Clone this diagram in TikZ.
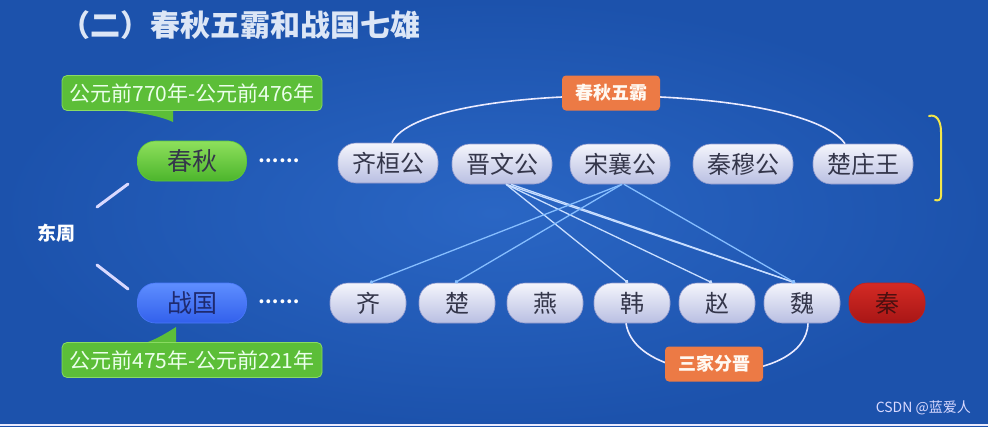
\documentclass[tikz,border=0pt]{standalone}
\usepackage{fontspec}
\setmainfont{Noto Sans CJK SC}
\usetikzlibrary{arrows.meta}
\definecolor{bgin}{HTML}{2A66C4}
\definecolor{bgout}{HTML}{1C52AC}
\definecolor{pilltop}{HTML}{F4F5FC}
\definecolor{pillbot}{HTML}{B9BFE2}
\definecolor{pillline}{HTML}{8E98CC}
\definecolor{txtdark}{HTML}{34364A}
\definecolor{calgreen}{HTML}{5CBE38}
\definecolor{calline}{HTML}{8ADB62}
\definecolor{orangebox}{HTML}{EC7A45}
\definecolor{linew}{HTML}{C8DEFF}
\definecolor{lineb}{HTML}{86BEFF}
\definecolor{ydraw}{HTML}{F2E64A}
\definecolor{titlec}{HTML}{DCE6F6}
\definecolor{gtop}{HTML}{8EE05C}
\definecolor{gbot}{HTML}{4CB52C}
\definecolor{gline}{HTML}{5FC83A}
\definecolor{btop}{HTML}{5E8EFF}
\definecolor{bbot}{HTML}{3260EC}
\definecolor{bline}{HTML}{4A78FA}
\definecolor{btext}{HTML}{1E2A70}
\definecolor{rtop}{HTML}{D42A24}
\definecolor{rbot}{HTML}{A81616}
\definecolor{rline}{HTML}{C2201C}
\definecolor{rtext}{HTML}{4A1010}
\tikzset{
  pill/.style={rectangle, rounded corners=18pt, minimum height=40pt, inner sep=0pt,
    top color=pilltop, bottom color=pillbot, draw=pillline, line width=0.6pt,
    text=txtdark, font=\fontsize{24}{24}\selectfont},
  toppill/.style={pill, minimum width=100pt},
  botpill/.style={pill, minimum width=76pt},
  callout/.style={rectangle, rounded corners=5pt, minimum width=260pt, minimum height=35pt,
    fill=calgreen, draw=calline, line width=0.8pt, text=white!92!green,
    font=\fontsize{21}{21}\selectfont, inner sep=0pt},
  obox/.style={rectangle, rounded corners=4pt, minimum width=98pt, minimum height=35pt,
    fill=orangebox, text=white!95!orange, font=\bfseries\fontsize{18}{18}\selectfont, inner sep=0pt},
  arcline/.style={draw=white!92!blue, line width=1.6pt},
  wlink/.style={draw=linew, line width=1.3pt, -{Circle[length=3.5pt]}},
  blink/.style={draw=lineb, line width=1.3pt, -{Circle[length=3.5pt]}},
  branch/.style={draw=white!85!blue, line width=3pt, line cap=round},
  dotsnode/.style={text=white, font=\bfseries\fontsize{18}{18}\selectfont, inner sep=0pt}
}
\begin{document}
\begin{tikzpicture}[x=1pt,y=-1pt]
\useasboundingbox (0,0) rectangle (988,426);
\shade[inner color=bgin, outer color=bgout] (0,0) rectangle (988,426);
\fill[white!92!blue] (0,423.5) rectangle (988,426);

% title
\node[anchor=west, text=titlec, font=\bfseries\fontsize{30}{30}\selectfont, inner sep=0pt] (title) at (60,25) {（二）春秋五霸和战国七雄};

% left part
\node[text=white, font=\bfseries\fontsize{19}{19}\selectfont, inner sep=0pt] (dz) at (56,233) {东周};
\node[pill, minimum width=109pt, top color=gtop, bottom color=gbot, draw=gline, font=\fontsize{25}{25}\selectfont] (cq) at (192,161) {春秋};
\node[pill, minimum width=109pt, top color=btop, bottom color=bbot, draw=bline, text=btext, font=\fontsize{25}{25}\selectfont] (zg) at (192,303) {战国};
\coordinate (b1s) at (97,207); \coordinate (b1e) at (128,184);
\coordinate (b2s) at (97,265); \coordinate (b2e) at (128,289);
\draw[branch] (b1s) -- (b1e);
\draw[branch] (b2s) -- (b2e);
\node[dotsnode] (d1) at (279,161) {……};
\node[dotsnode] (d2) at (279,302) {……};

% callouts
\fill[calgreen] (100,108) .. controls (140,112) and (160,116) .. (173,122) -- (173,108) -- cycle;
\node[callout] (c1) at (192,93) {公元前770年-公元前476年};
\fill[calgreen] (140,345) .. controls (155,340) and (165,334) .. (176,327) -- (176,345) -- cycle;
\node[callout] (c2) at (192,360) {公元前475年-公元前221年};

% top row
\node[toppill] (qhg) at (388,163) {齐桓公};
\node[toppill] (jwg) at (502,164) {晋文公};
\node[toppill] (sxg) at (620,164) {宋襄公};
\node[toppill] (qmg) at (743,164) {秦穆公};
\node[toppill] (czw) at (863,164) {楚庄王};

% bottom row
\node[botpill] (qi) at (368,303) {齐};
\node[botpill] (chu) at (457,303) {楚};
\node[botpill] (yan) at (545,303) {燕};
\node[botpill] (han) at (632,303) {韩};
\node[botpill] (zhao) at (717,303) {赵};
\node[botpill] (wei) at (802,303) {魏};
\node[botpill, top color=rtop, bottom color=rbot, draw=rline, text=rtext] (qin) at (887,303) {秦};

% arcs
\draw[arcline] ([xshift=4pt]qhg.north) .. controls (420,80) and (800,80) .. ([xshift=-18pt]czw.north);
\node[obox] (cqwb) at (611,93) {春秋五霸};
\draw[arcline] ([xshift=-6pt]han.south) .. controls (636,388) and (806,388) .. ([xshift=6pt]wei.south);
\node[obox] (sjfj) at (714,364) {三家分晋};

% links
\draw[wlink] ([xshift=4pt]jwg.south) -- ([xshift=-4pt]han.north);
\draw[wlink] ([xshift=4pt]jwg.south) -- ([xshift=-5pt]zhao.north);
\draw[wlink] ([xshift=4pt]jwg.south) -- ([xshift=-7pt]wei.north);
\draw[wlink] ([xshift=9pt]jwg.south) -- ([xshift=-7pt]wei.north);
\draw[blink] ([xshift=2pt]sxg.south) -- ([xshift=2pt]qi.north);
\draw[blink] ([xshift=2pt]sxg.south) -- ([xshift=-2pt]chu.north);
\draw[blink] ([xshift=4pt]sxg.south) -- ([xshift=-7pt]wei.north);

% yellow annotation
\draw[ydraw, line width=2pt, line cap=round] (929,116) .. controls (936,114) and (941,120) .. (941,132) -- (941,196) .. controls (941,200) and (938,201) .. (935,200);

% watermark
\node[anchor=east, text=white!85!blue, font=\fontsize{14}{14}\selectfont, inner sep=0pt] (wm) at (971,408) {CSDN @蓝爱人};
\end{tikzpicture}
\end{document}
